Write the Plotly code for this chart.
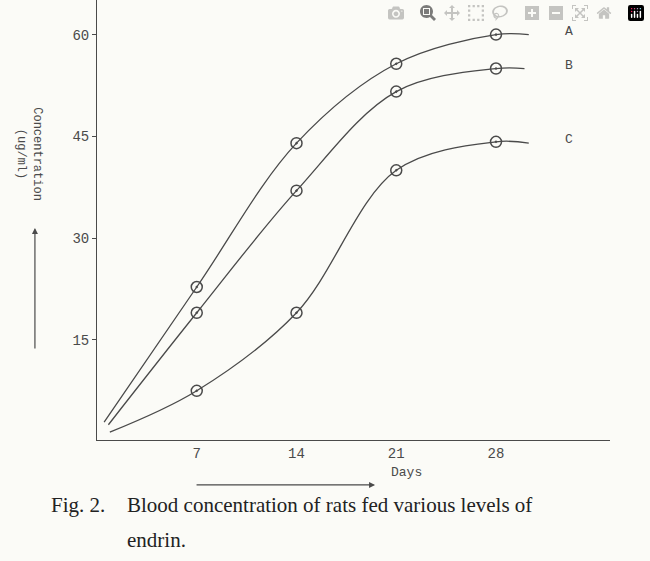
import plotly.graph_objects as go

days = [7, 14, 21, 28]
start_x = [0.5, 0.8, 0.9]
end_x = [30.3, 30.0, 30.3]
series = {
    "A": [22.8, 44.0, 55.7, 60.0],
    "B": [19.0, 37.0, 51.6, 55.0],
    "C": [7.5, 19.0, 40.0, 44.2],
}
starts = [2.9, 2.5, 1.4]
ends = [60.0, 55.0, 44.0]
y_ticks = [15, 30, 45, 60]

ink = "#4a4a4a"
fig = go.Figure()
for i, (name, vals) in enumerate(series.items()):
    fig.add_trace(go.Scatter(x=[start_x[i]] + days + [end_x[i]], y=[starts[i]] + vals + [ends[i]],
                             mode="lines", line=dict(color=ink, width=1.3, shape="spline"),
                             showlegend=False, hoverinfo="skip"))
    fig.add_trace(go.Scatter(x=days, y=vals, mode="markers",
                             marker=dict(symbol="circle-open-dot", size=11, color=ink, line=dict(width=1.5)),
                             showlegend=False))
    fig.add_annotation(x=32.7, y=ends[i] + 0.5, text=name, showarrow=False,
                       font=dict(family="Liberation Mono", size=13, color=ink), xanchor="left")

fig.update_xaxes(range=[0, 36], tickvals=days, showline=True, linecolor=ink, showgrid=False,
                 zeroline=False, ticks="", tickfont=dict(family="Liberation Mono", size=14, color=ink))
fig.update_yaxes(range=[0.25, 65.1], tickvals=y_ticks, showline=True, linecolor=ink, showgrid=False,
                 zeroline=False, ticks="outside", ticklen=4, tickcolor=ink,
                 tickfont=dict(family="Liberation Mono", size=14, color=ink))
fig.add_annotation(xref="paper", yref="paper", x=-0.165, y=0.76, text="Concentration<br>(ug/ml)",
                   textangle=90, showarrow=False, font=dict(family="Liberation Mono", size=12, color=ink))
fig.add_annotation(xref="paper", yref="paper", x=-0.121, y=0.482, text="", showarrow=True,
                   ax=0, ay=122, arrowhead=2, arrowwidth=1.2, arrowcolor=ink)
fig.add_annotation(xref="paper", yref="paper", x=0.542, y=-0.102, text="", showarrow=True,
                   ax=-180, ay=0, arrowhead=2, arrowwidth=1.2, arrowcolor=ink)
fig.add_annotation(xref="paper", yref="paper", x=0.57, y=-0.095, text="Days", showarrow=False,
                   xanchor="left", font=dict(family="Liberation Mono", size=13, color=ink))
cap = dict(family="Liberation Serif", size=21, color="#222")
fig.add_annotation(xref="paper", yref="paper", x=-0.094, y=-0.18, text="Fig. 2.", showarrow=False,
                   xanchor="left", font=cap)
fig.add_annotation(xref="paper", yref="paper", x=0.055, y=-0.18,
                   text="Blood concentration of rats fed various levels of", showarrow=False,
                   xanchor="left", font=cap)
fig.add_annotation(xref="paper", yref="paper", x=0.055, y=-0.258, text="endrin.", showarrow=False,
                   xanchor="left", font=cap)
fig.update_layout(width=650, height=561, margin=dict(l=97, r=40, t=0, b=121),
                  paper_bgcolor="#fbfbf7", plot_bgcolor="#fbfbf7")
fig.write_html("out.html", post_script="document.body.style.margin='0';")
